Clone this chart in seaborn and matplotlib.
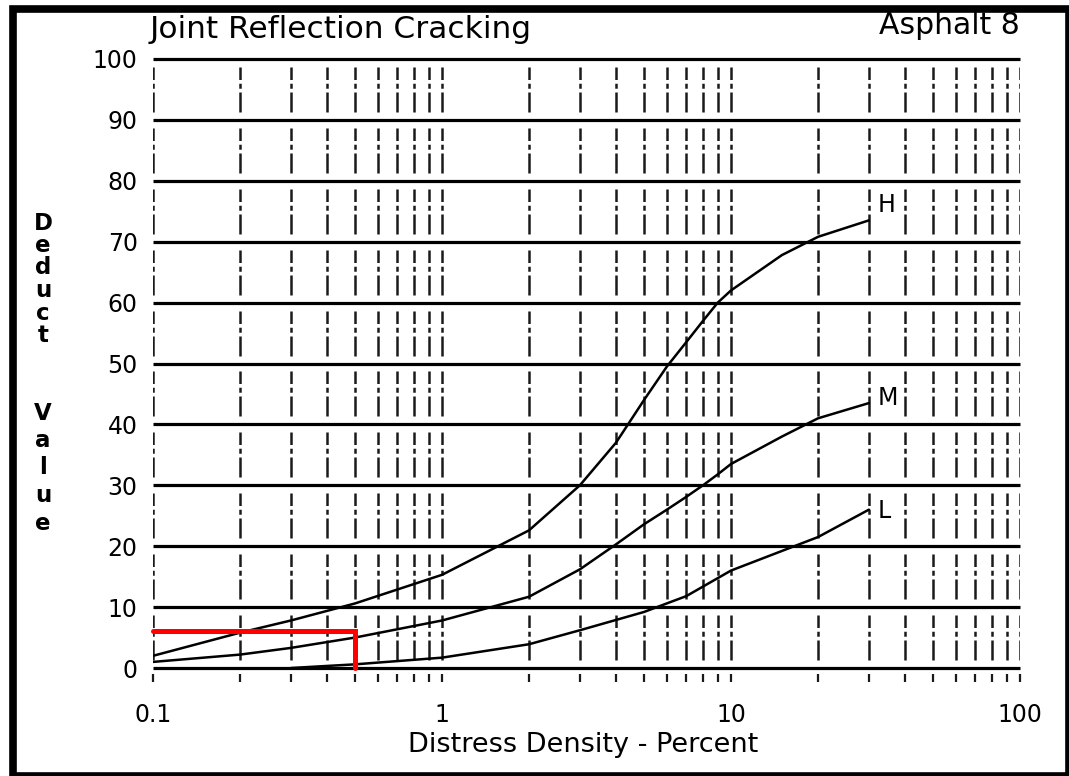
import numpy as np
import pandas as pd
import matplotlib
matplotlib.use('Agg')
import matplotlib.pyplot as plt
from matplotlib.patches import Rectangle
import seaborn as sns

# valores (densidade em %, valor de deducao)
dens_H = [0.1, 0.2, 0.3, 0.5, 1, 2, 3, 4, 5, 6, 7, 8, 9, 10, 15, 20, 30]
val_H = [2, 5.8, 7.8, 10.6, 15.3, 22.6, 30, 37, 44, 49.5, 53.5, 57, 60, 62, 67.8, 70.8, 73.5]
dens_M = [0.1, 0.2, 0.3, 0.5, 1, 2, 3, 4, 5, 6, 7, 8, 9, 10, 15, 20, 30]
val_M = [1, 2.2, 3.3, 5, 7.8, 11.7, 16.2, 20.3, 23.6, 26, 28.1, 30, 31.8, 33.5, 38, 41, 43.5]
dens_L = [0.3, 0.5, 1, 2, 3, 5, 7, 10, 20, 30]
val_L = [0, 0.6, 1.7, 3.9, 6.2, 9.2, 11.8, 16, 21.5, 26]
severidades = ['H', 'M', 'L']

# exemplo marcado em vermelho
ex_dens = 0.5
ex_val = 6

xticks = [0.1, 1, 10, 100]
xticklabels = ['0.1', '1', '10', '100']
yticks = list(range(0, 101, 10))

df = pd.concat([
    pd.DataFrame({'Densidade': dens_H, 'Deducao': val_H, 'Sev': 'H'}),
    pd.DataFrame({'Densidade': dens_M, 'Deducao': val_M, 'Sev': 'M'}),
    pd.DataFrame({'Densidade': dens_L, 'Deducao': val_L, 'Sev': 'L'}),
], ignore_index=True)

sns.set_style('white')
plt.rcParams['font.family'] = ['DejaVu Sans']
plt.rcParams['text.color'] = 'black'
plt.rcParams['xtick.color'] = 'black'
plt.rcParams['ytick.color'] = 'black'

fig = plt.figure(figsize=(10.69, 7.76), dpi=100)
ax = fig.add_axes([153/1069, 108/776, 867/1069, 609/776])
ax.set_xscale('log')
ax.set_xlim(0.1, 100)
ax.set_ylim(0, 100)
for s in ax.spines.values():
    s.set_visible(False)

# linhas verticais tracejadas (grade log)
grade_x = [m * 10.0**e for e in (-1, 0, 1) for m in range(1, 10)] + [100]
lows = np.arange(0, 100, 10) + 1.3
highs = np.arange(0, 100, 10) + 8.7
for gx in grade_x:
    ax.vlines([gx]*len(lows), lows, highs, colors='#1a1a1a', lw=1.8,
              linestyles=[(0, (8, 1.5, 2, 1.5))])
    ax.vlines(gx, -2.3, -1.0, colors='#1a1a1a', lw=1.6, clip_on=False)

# linhas horizontais
ax.hlines(yticks, 0.1, 100, colors='black', lw=2.3, clip_on=False)

sns.lineplot(data=df, x='Densidade', y='Deducao', hue='Sev',
             palette={'H': 'black', 'M': 'black', 'L': 'black'},
             estimator=None, sort=False, legend=False, lw=1.8, ax=ax)

offs = {'H': (6, 11), 'M': (6, 4), 'L': (6, -1)}
ends = {'H': (dens_H[-1], val_H[-1]), 'M': (dens_M[-1], val_M[-1]), 'L': (dens_L[-1], val_L[-1])}
for s in severidades:
    ax.annotate(s, xy=ends[s], xytext=offs[s], textcoords='offset points',
                ha='left', va='center', fontsize=17)

ax.plot([0.1, ex_dens, ex_dens], [ex_val, ex_val, 0], color='#ff0000', lw=3.6,
        clip_on=False, solid_joinstyle='miter', zorder=5)

ax.set_xticks(xticks)
ax.set_xticklabels(xticklabels)
ax.minorticks_off()
ax.set_yticks(yticks)
ax.tick_params(axis='x', length=0, pad=25, labelsize=17)
ax.tick_params(axis='y', length=8, width=2.3, pad=3, labelsize=17, direction='out')
ax.set_xlabel('')
ax.set_ylabel('')

fig.text(150/1069, 1 - 29/776, 'Joint Reflection Cracking', ha='left', va='center', fontsize=22.5)
fig.text(1020/1069, 1 - 25/776, 'Asphalt 8', ha='right', va='center', fontsize=21.5)
fig.text(583/1069, 1 - 745/776, 'Distress Density - Percent', ha='center', va='center',
         fontsize=19.5)

# rotulo do eixo y empilhado
for i, ch in enumerate('Deduct'):
    fig.text(43/1069, 1 - (223 + 22.5*i)/776, ch, ha='center', va='center',
             fontsize=16.5, fontweight='bold')
for i, ch in enumerate('Value'):
    fig.text(43/1069, 1 - (413 + 27.5*i)/776, ch, ha='center', va='center',
             fontsize=16.5, fontweight='bold')

# moldura preta
fig.add_artist(Rectangle((13/1069, 0), 1 - 13/1069, 1 - 8.5/776, transform=fig.transFigure,
                         fill=False, edgecolor='black', lw=5.5))

fig.savefig('out.png', dpi=100)
